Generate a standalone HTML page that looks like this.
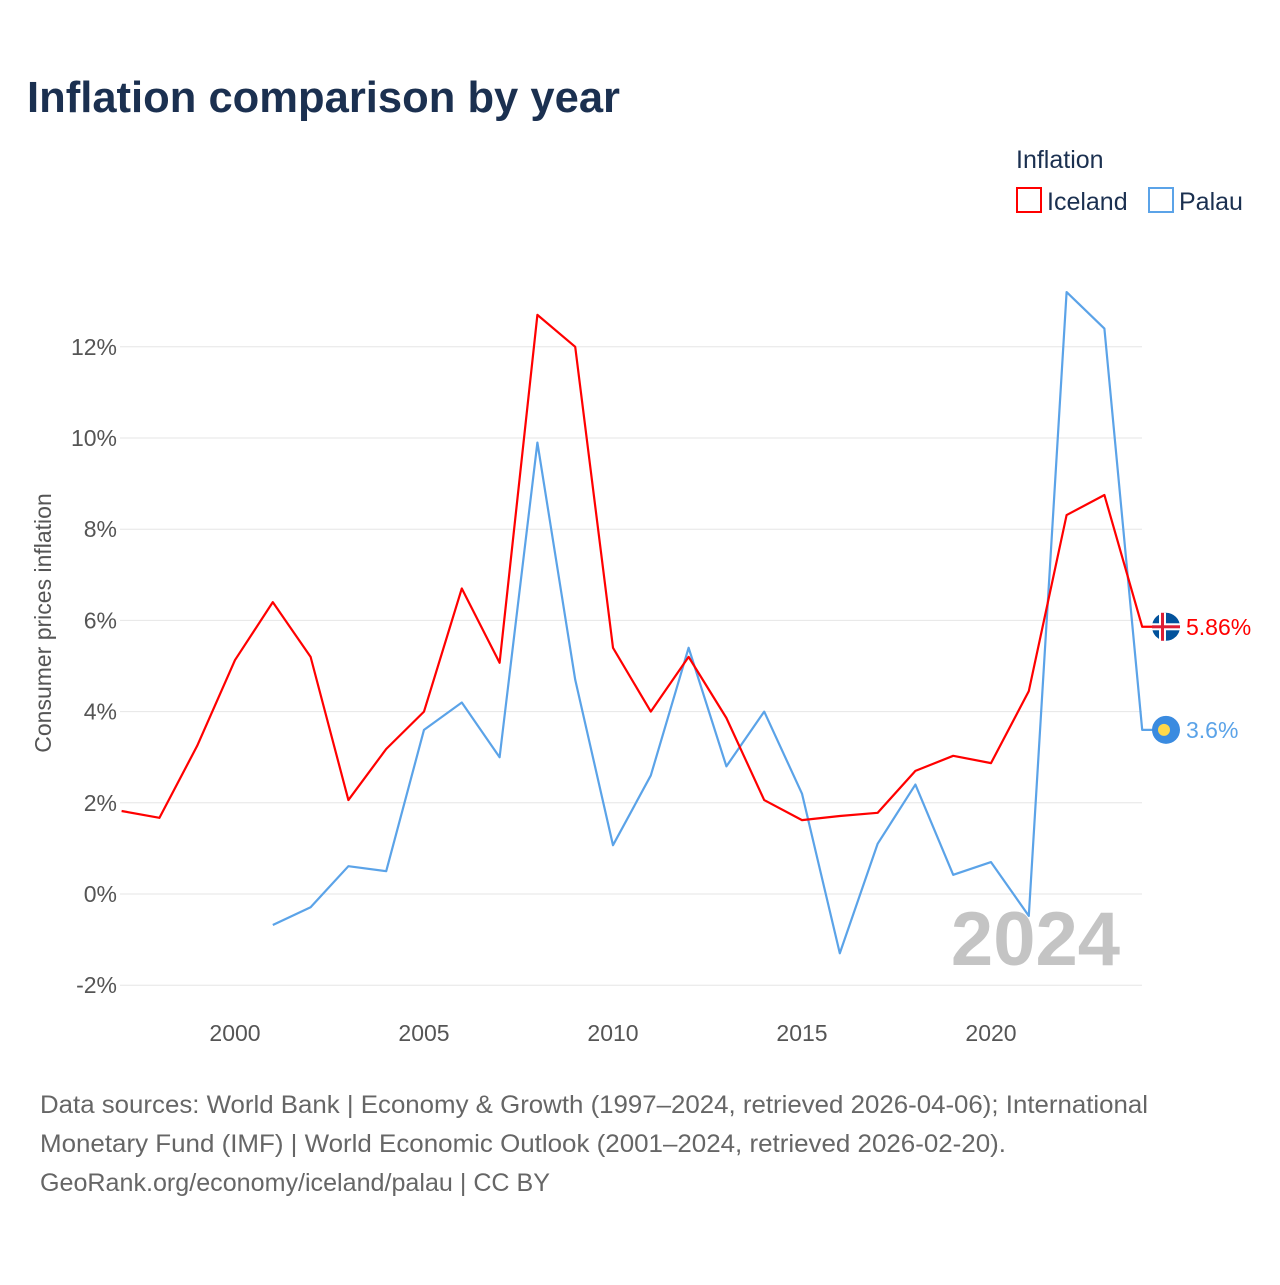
<!DOCTYPE html>
<html><head><meta charset="utf-8"><style>
body{margin:0;background:#fff;font-family:"Liberation Sans",sans-serif}
</style></head><body>
<svg width="1280" height="1280" xmlns="http://www.w3.org/2000/svg" id="chart">
<rect width="1280" height="1280" fill="#fff"/>
<text x="27" y="112" font-size="44" font-weight="bold" fill="#1b3050" textLength="593" lengthAdjust="spacingAndGlyphs">Inflation comparison by year</text>
<text x="1016" y="168" font-size="25" fill="#1b3050">Inflation</text>
<g><rect x="1017" y="188" width="24" height="24" fill="none" stroke="#f00" stroke-width="2"/><text x="1047" y="210" font-size="25" fill="#1b3050">Iceland</text></g>
<g><rect x="1149" y="188" width="24" height="24" fill="none" stroke="#5ba3e8" stroke-width="2"/><text x="1179" y="210" font-size="25" fill="#1b3050">Palau</text></g>
<text transform="translate(51,623) rotate(-90)" text-anchor="middle" font-size="23" fill="#555">Consumer prices inflation</text>
<g id="grid"></g><g id="lines"></g>
<text x="1120" y="965" text-anchor="end" font-size="76" font-weight="bold" fill="#c4c4c4">2024</text>
<g font-size="25" fill="#666">
<text x="40" y="1113" textLength="1108" lengthAdjust="spacingAndGlyphs">Data sources: World Bank | Economy &amp; Growth (1997–2024, retrieved 2026-04-06); International</text>
<text x="40" y="1152" textLength="966" lengthAdjust="spacingAndGlyphs">Monetary Fund (IMF) | World Economic Outlook (2001–2024, retrieved 2026-02-20).</text>
<text x="40" y="1191" textLength="510" lengthAdjust="spacingAndGlyphs">GeoRank.org/economy/iceland/palau | CC BY</text>
</g>
</svg>
<script>
const iceYears=[1997,1998,1999,2000,2001,2002,2003,2004,2005,2006,2007,2008,2009,2010,2011,2012,2013,2014,2015,2016,2017,2018,2019,2020,2021,2022,2023,2024];
const iceValues=[1.82,1.67,3.25,5.13,6.4,5.2,2.06,3.18,4.0,6.7,5.07,12.7,12.0,5.4,4.0,5.2,3.86,2.06,1.62,1.71,1.78,2.7,3.03,2.87,4.45,8.31,8.75,5.86];
const palYears=[2001,2002,2003,2004,2005,2006,2007,2008,2009,2010,2011,2012,2013,2014,2015,2016,2017,2018,2019,2020,2021,2022,2023,2024];
const palValues=[-0.68,-0.29,0.61,0.5,3.6,4.2,3.0,9.9,4.7,1.07,2.6,5.4,2.8,4.0,2.2,-1.3,1.1,2.4,0.42,0.7,-0.48,13.2,12.4,3.6];
const yTicks=[-2,0,2,4,6,8,10,12];
const xTicks=[2000,2005,2010,2015,2020];
const NS="http://www.w3.org/2000/svg";
const x=yr=>121.6+(yr-1997)*37.8;
const y=v=>894-v*45.6;
const g=document.getElementById('grid'),L=document.getElementById('lines');
function mk(tag,at,par){const e=document.createElementNS(NS,tag);for(const k in at)e.setAttribute(k,at[k]);par.appendChild(e);return e;}
yTicks.forEach(t=>{
 const l=mk('line',{x1:120,x2:1142,y1:y(t),y2:y(t),stroke:'#e6e6e6','stroke-width':1},g);
 
 
 const tx=mk('text',{x:117,y:y(t)+8,'text-anchor':'end','font-size':23,fill:'#555'},g);
 tx.textContent=t+'%';
 
 
});
xTicks.forEach(t=>{
 const tx=mk('text',{x:x(t),y:1041,'text-anchor':'middle','font-size':23,fill:'#555'},g);
 tx.textContent=t;
 
 
});
function line(ys,vs,col,name){
 const p=ys.map((yr,i)=>x(yr)+','+y(vs[i])).join(' ')+' '+(x(ys[ys.length-1])+14)+','+y(vs[vs.length-1]);
 const e=mk('polyline',{points:p,fill:'none',stroke:col,'stroke-width':2.2,'stroke-linejoin':'round'},L);
 
 
}
line(palYears,palValues,'#5ba3e8','palau-line');
line(iceYears,iceValues,'#f00','iceland-line');
const iy=y(iceValues[iceValues.length-1]),py=y(palValues[palValues.length-1]);
const fl=mk('g',{},L);


mk('circle',{cx:1166,cy:iy,r:14,fill:'#02529c'},fl);
mk('rect',{x:1152,y:iy-3.5,width:28,height:7,fill:'#fff'},fl);
mk('rect',{x:1159,y:iy-14,width:7,height:28,fill:'#fff'},fl);
mk('rect',{x:1152,y:iy-1.5,width:28,height:3,fill:'#dc1e35'},fl);
mk('rect',{x:1161,y:iy-14,width:3,height:28,fill:'#dc1e35'},fl);
const pf=mk('g',{},L);


mk('circle',{cx:1166,cy:py,r:14,fill:'#3a8be0'},pf);
mk('circle',{cx:1164,cy:py,r:6,fill:'#ffd84a'},pf);
const t1=mk('text',{x:1186,y:iy+8,'font-size':23,fill:'#f00'},L);t1.textContent=iceValues[iceValues.length-1]+'%';


const t2=mk('text',{x:1186,y:py+8,'font-size':23,fill:'#5ba3e8'},L);t2.textContent=palValues[palValues.length-1]+'%';


</script>
</body></html>
